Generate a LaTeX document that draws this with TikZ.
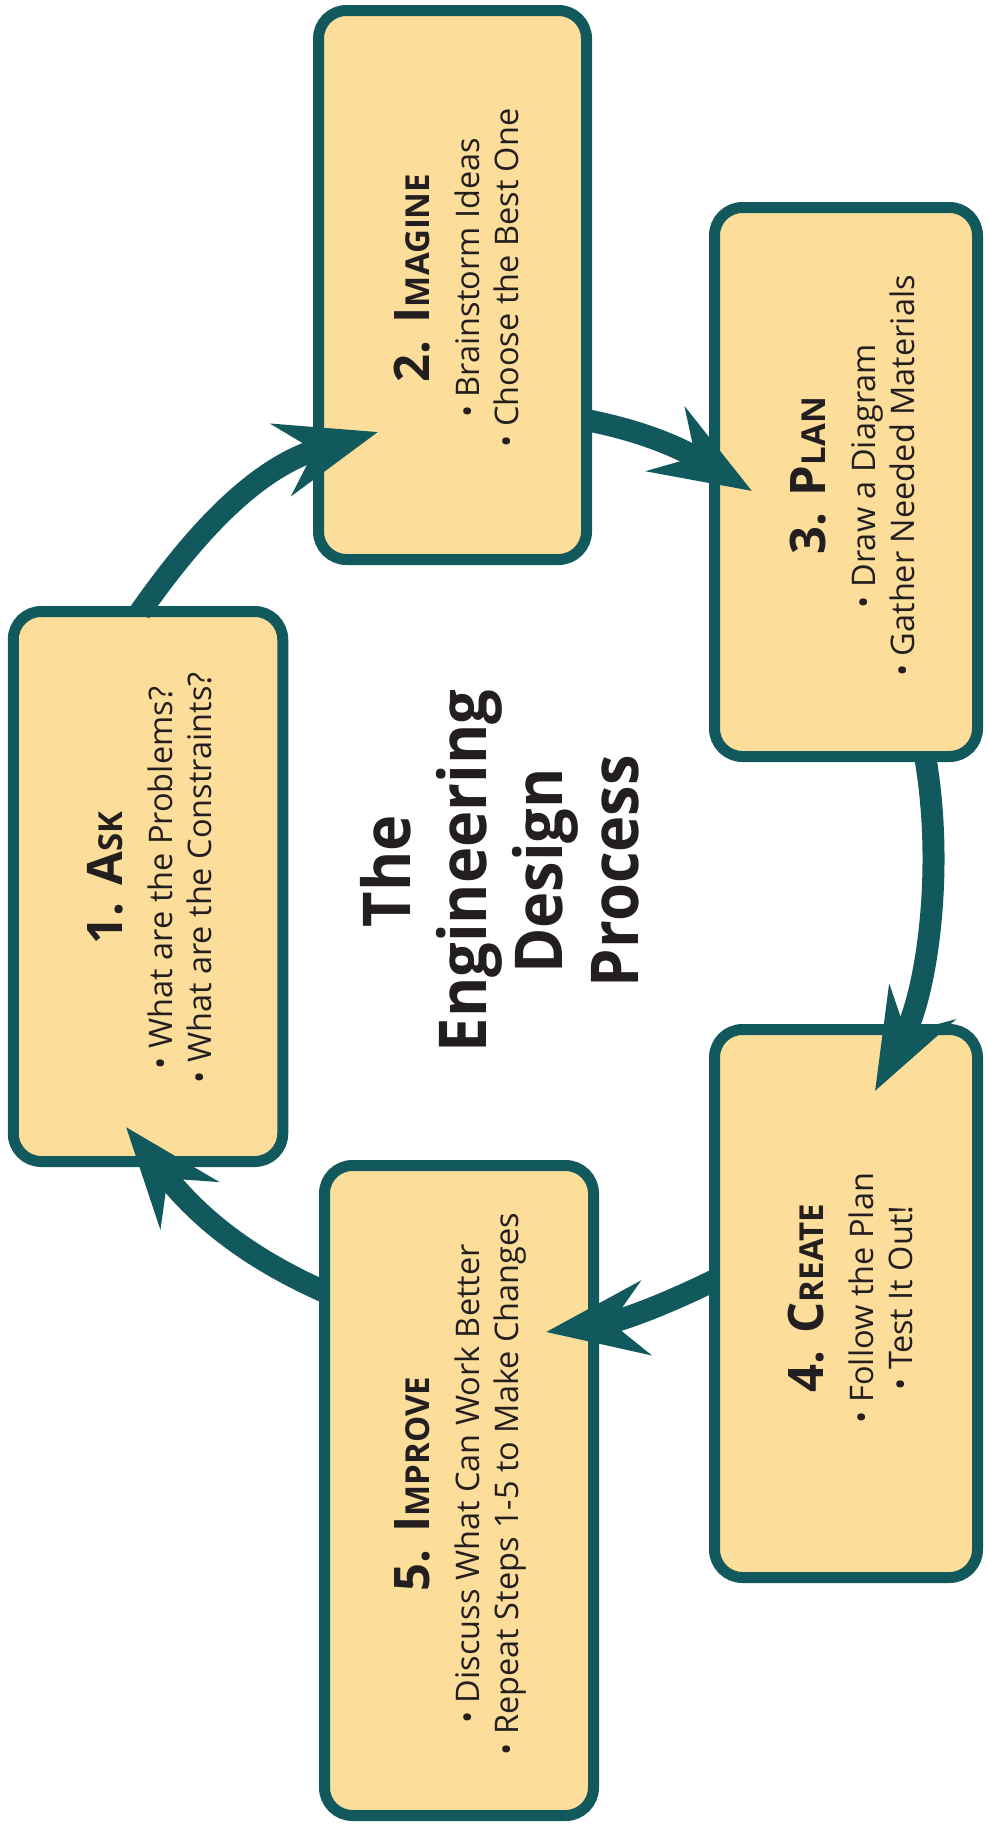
\documentclass[tikz,border=0pt]{standalone}
\usepackage{fontspec}
\setmainfont{Open Sans}
\newfontfamily\titlefont[FakeStretch=0.93]{Open Sans}
\usetikzlibrary{arrows.meta,calc}
\definecolor{edpTeal}{RGB}{18,89,94}
\definecolor{edpFill}{RGB}{252,221,153}
\definecolor{edpInk}{RGB}{35,31,32}
\newcommand{\edphead}[2]{{\fontsize{49}{50}\selectfont\bfseries #1{\fontsize{33}{50}\selectfont #2}}}
\begin{document}
\begin{tikzpicture}[x=1pt,y=1pt,
  stepbox/.style={draw=edpTeal, line width=11pt, fill=edpFill, rounded corners=28pt, inner sep=0pt},
  steptext/.style={rotate=90, align=center, text=edpInk, font=\fontsize{32.5}{39}\selectfont, inner sep=0pt},
  titletext/.style={rotate=90, align=center, text=edpInk, font=\titlefont\bfseries\fontsize{66}{76}\selectfont, inner sep=0pt},
  flow/.style={draw=edpTeal, line width=22pt, -{Stealth[length=100pt,width=74pt,inset=34pt]}}
]
\useasboundingbox (0,0) rectangle (987,-1829);
\fill[white] (0,0) rectangle (987,-1829);

\node[stepbox, minimum width=269.5pt, minimum height=550pt] (ask) at (148,-886.5) {};
\node[stepbox, minimum width=268pt, minimum height=549pt] (imagine) at (452.5,-285) {};
\node[stepbox, minimum width=263pt, minimum height=549pt] (plan) at (846,-482) {};
\node[stepbox, minimum width=263pt, minimum height=548pt] (create) at (846,-1303.5) {};
\node[stepbox, minimum width=269pt, minimum height=650pt] (improve) at (459,-1490.5) {};

\node[steptext] (asktext) at (150,-878) {\edphead{1. A}{SK}\\[11pt] • What are the Problems?\\ • What are the Constraints?};
\node[steptext] (imaginetext) at (456,-278) {\edphead{2. I}{MAGINE}\\[11pt] • Brainstorm Ideas\\ • Choose the Best One};
\node[steptext] (plantext) at (852,-476) {\edphead{3. P}{LAN}\\[11pt] • Draw a Diagram\\ • Gather Needed Materials};
\node[steptext] (createtext) at (850,-1298) {\edphead{4. C}{REATE}\\[11pt] • Follow the Plan\\ • Test It Out!};
\node[steptext] (improvetext) at (460,-1484) {\edphead{5. I}{MPROVE}\\[11pt] • Discuss What Can Work Better\\ • Repeat Steps 1-5 to Make Changes};

\node[titletext] (title) at (500,-871) {The\\Engineering\\Design\\Process};

\coordinate (s1) at ($(ask.north)+(-8,-6)$);
\coordinate (t1) at ($(imagine.west)+(65,-147)$);
\coordinate (s2) at ($(imagine.east)+(-6,-135)$);
\coordinate (t2) at ($(plan.west)+(43,-9)$);
\coordinate (s3) at ($(plan.south)+(79,6)$);
\coordinate (t3) at ($(create.north)+(29,-67)$);
\coordinate (s4) at ($(create.west)+(6,23.5)$);
\coordinate (t4) at ($(improve.east)+(-53,158.5)$);
\coordinate (s5) at ($(improve.west)+(6,198.5)$);
\coordinate (t5) at ($(ask.south)+(-22,40)$);

\draw[flow] (s1) to[out=55,in=196] (t1);
\draw[flow] (s2) to[out=-11,in=149] (t2);
\draw[flow] (s3) to[out=-80,in=62,looseness=0.85] (t3);
\draw[flow] (s4) to[out=206,in=8] (t4);
\draw[flow] (s5) to[out=156,in=-51] (t5);
\end{tikzpicture}
\end{document}
